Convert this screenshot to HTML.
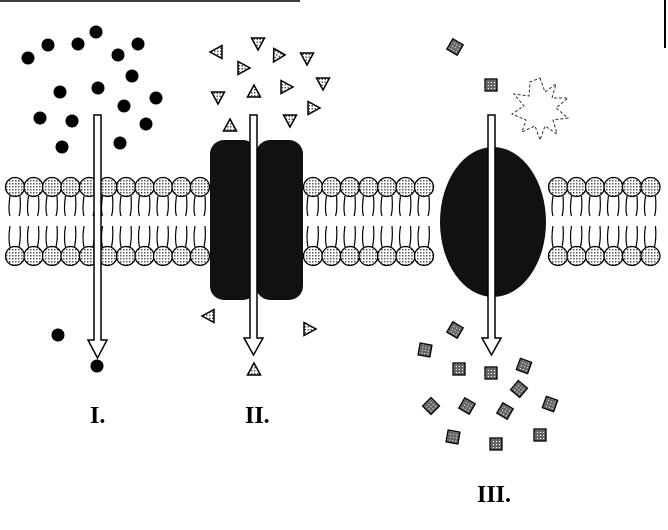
<!DOCTYPE html>
<html><head><style>
html,body{margin:0;padding:0;background:#fff;}
svg{display:block}
text{font-family:"Liberation Serif",serif;font-size:24px;font-weight:bold;fill:#000}
</style></head><body>
<svg id="s" width="668" height="530" viewBox="0 0 668 530" xmlns="http://www.w3.org/2000/svg">
<defs>
<pattern id="dots" width="3" height="3" patternUnits="userSpaceOnUse"><rect width="3" height="3" fill="#fff"/><rect width="1.5" height="1.5" fill="#555"/></pattern>
<pattern id="dk" width="3" height="3" patternUnits="userSpaceOnUse"><rect width="3" height="3" fill="#666"/><rect width="1" height="1" fill="#fff"/></pattern>
</defs>
<line x1="0" y1="1" x2="300" y2="1" stroke="#000" stroke-width="1.5"/>
<line x1="665" y1="0" x2="665" y2="48" stroke="#000" stroke-width="2"/>
<g id="mem"></g>
<rect x="210" y="140" width="47" height="160" rx="14" fill="#111"/>
<rect x="256" y="140" width="47" height="160" rx="14" fill="#111"/>
<ellipse cx="493" cy="222" rx="53" ry="75" fill="#111"/>
<g id="parts"></g>
<g fill="#fff" stroke="#000" stroke-width="1.5">
<path d="M94,115 H101 V340 H107 L97.5,358 L88,340 H94 Z"/>
<path d="M250,115 H257 V338 H263 L253.5,355 L244,338 H250 Z"/>
<path d="M488,115 H495 V338 H501 L491.5,355 L482,338 H488 Z"/>
</g>
<path d="M540,78 L545,92 L556,84 L552,98 L568,98 L556,108 L568,118 L553,120 L557,134 L545,126 L540,140 L535,126 L522,132 L526,120 L512,114 L524,106 L514,94 L529,96 L530,82 Z" fill="#fff" stroke="#333" stroke-width="1" stroke-dasharray="3,2"/>
<text x="90" y="423">I.</text>
<text x="245" y="423">II.</text>
<text x="477" y="502">III.</text>
</svg>
<script>
var ns="http://www.w3.org/2000/svg";
function el(p,t,a){var e=document.createElementNS(ns,t);for(var k in a)e.setAttribute(k,a[k]);p.appendChild(e);return e;}
var m=document.getElementById('mem');
var xs=[];
for(var x=15;x<205;x+=18.5)xs.push(x);
for(var x=313;x<440;x+=18.5)xs.push(x);
for(var x=558;x<668;x+=18.5)xs.push(x);
xs.forEach(function(x){
 el(m,'path',{d:'M'+(x-5)+',196 Q'+(x-7)+',210 '+(x-5)+',216 M'+(x+5)+',196 Q'+(x+6)+',210 '+(x+4)+',216 M'+(x-5)+',226 Q'+(x-7)+',238 '+(x-5)+',247 M'+(x+5)+',226 Q'+(x+6)+',238 '+(x+4)+',247',stroke:'#000','stroke-width':1.2,fill:'none'});
 el(m,'circle',{cx:x,cy:187,r:9.5,fill:'url(#dots)',stroke:'#000','stroke-width':1.3});
 el(m,'circle',{cx:x,cy:256,r:9.5,fill:'url(#dots)',stroke:'#000','stroke-width':1.3});
});
var p=document.getElementById('parts');
[[96,32],[48,45],[78,44],[118,55],[138,44],[28,58],[132,76],[60,92],[98,88],[156,98],[124,106],[40,118],[72,121],[146,124],[62,147],[120,143],[58,335],[97,366]].forEach(function(c){el(p,'circle',{cx:c[0],cy:c[1],r:6.5,fill:'#000'});});
function tri(x,y,rot){el(p,'path',{d:'M0,-7 L6.5,5 L-6.5,5 Z',transform:'translate('+x+','+y+') rotate('+rot+')',fill:'url(#dots)',stroke:'#000','stroke-width':1.5});}
[[258,43,180],[217,52,-90],[277,56,-150],[307,58,180],[243,68,90],[254,92,0],[286,87,90],[323,83,180],[218,97,180],[313,108,90],[290,120,180],[230,126,0],[209,316,-90],[309,329,90],[254,370,0]].forEach(function(t){tri(t[0],t[1],t[2]);});
function sq(x,y,r){el(p,'rect',{x:-6,y:-6,width:12,height:12,transform:'translate('+x+','+y+') rotate('+r+')',fill:'url(#dk)',stroke:'#000','stroke-width':1.3});}
[[455,47,30],[491,85,0],[455,330,30],[425,350,10],[459,369,0],[491,373,0],[524,366,20],[519,389,40],[431,406,45],[467,406,30],[505,411,30],[550,404,20],[453,437,10],[496,444,0],[540,435,0]].forEach(function(s){sq(s[0],s[1],s[2]);});
</script>
</body></html>
